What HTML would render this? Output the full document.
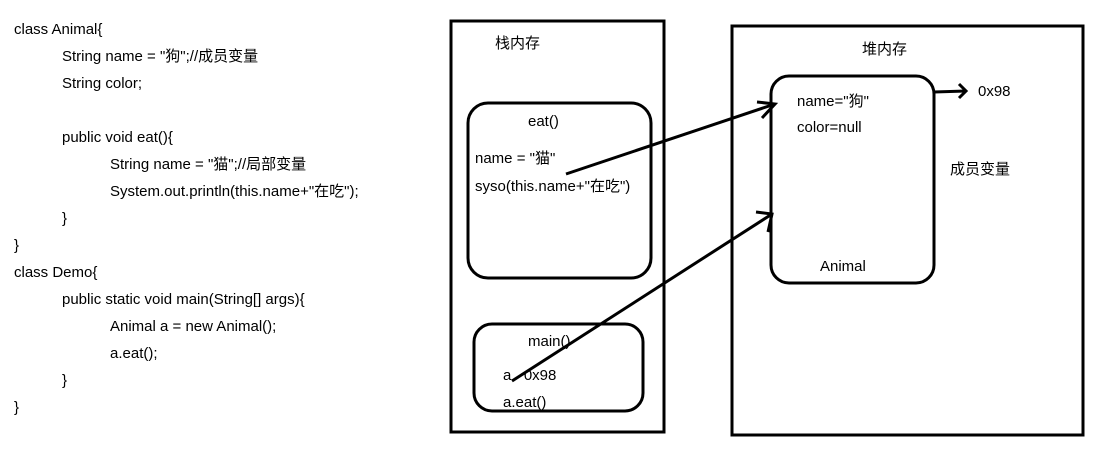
<!DOCTYPE html>
<html><head><meta charset="utf-8"><style>
body{margin:0;width:1116px;height:455px;background:#fff;overflow:hidden;position:relative;font-family:"Liberation Sans","Noto Sans CJK SC",sans-serif;font-size:15px;color:#000}
.t{position:absolute;white-space:nowrap;line-height:18px}
</style></head><body>
<div class="t" style="left:14px;top:21px">class Animal{</div>
<div class="t" style="left:62px;top:48px">String name = "狗";//成员变量</div>
<div class="t" style="left:62px;top:75px">String color;</div>
<div class="t" style="left:62px;top:129px">public void eat(){</div>
<div class="t" style="left:110px;top:156px">String name = "猫";//局部变量</div>
<div class="t" style="left:110px;top:183px">System.out.println(this.name+"在吃");</div>
<div class="t" style="left:62px;top:210px">}</div>
<div class="t" style="left:14px;top:237px">}</div>
<div class="t" style="left:14px;top:264px">class Demo{</div>
<div class="t" style="left:62px;top:291px">public static void main(String[] args){</div>
<div class="t" style="left:110px;top:318px">Animal a = new Animal();</div>
<div class="t" style="left:110px;top:345px">a.eat();</div>
<div class="t" style="left:62px;top:372px">}</div>
<div class="t" style="left:14px;top:399px">}</div>

<svg width="1116" height="455" style="position:absolute;left:0;top:0" fill="none" stroke="#000" stroke-width="3">
<rect x="451" y="21" width="213" height="411"/>
<rect x="732" y="26" width="351" height="409"/>
<rect x="468" y="103" width="183" height="175" rx="20"/>
<rect x="474" y="324" width="169" height="87" rx="18"/>
<rect x="771" y="76" width="163" height="207" rx="18"/>
<line x1="566" y1="174" x2="775" y2="104"/>
<polyline points="757,102 775,104 762,118"/>
<line x1="512" y1="381" x2="772" y2="214"/>
<polyline points="756,212 772,214 768,232"/>
<line x1="934" y1="92" x2="966" y2="91"/>
<polyline points="959,84 966,91 959,98"/>
</svg>

<div class="t" style="left:495px;top:35px">栈内存</div>
<div class="t" style="left:528px;top:113px">eat()</div>
<div class="t" style="left:475px;top:150px">name = "猫"</div>
<div class="t" style="left:475px;top:178px">syso(this.name+"在吃")</div>
<div class="t" style="left:528px;top:333px">main()</div>
<div class="t" style="left:503px;top:367px">a&nbsp;&nbsp;&nbsp;0x98</div>
<div class="t" style="left:503px;top:394px">a.eat()</div>
<div class="t" style="left:862px;top:41px">堆内存</div>
<div class="t" style="left:797px;top:93px">name="狗"</div>
<div class="t" style="left:797px;top:119px">color=null</div>
<div class="t" style="left:820px;top:258px">Animal</div>
<div class="t" style="left:978px;top:83px">0x98</div>
<div class="t" style="left:950px;top:161px">成员变量</div>
</body></html>
